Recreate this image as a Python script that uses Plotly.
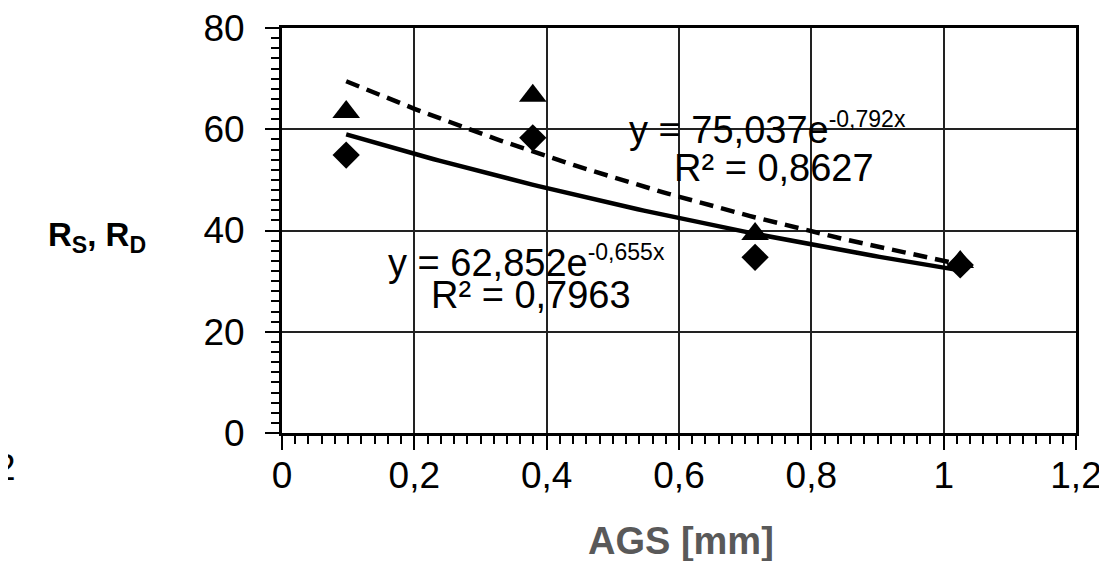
import numpy as np
import plotly.graph_objects as go

# Data
ags = [0.097, 0.379, 0.715, 1.025]
rs_triangle = [63.4, 66.6, 39.3, 33.8]
rd_diamond = [54.9, 58.3, 34.7, 33.2]

# Trendline coefficients as printed on chart (y = a * e^(b x))
fit_tri = (75.037, -0.792)
fit_dia = (62.852, -0.655)

x_ticks = [0, 0.2, 0.4, 0.6, 0.8, 1.0, 1.2]
x_ticklabels = ["0", "0,2", "0,4", "0,6", "0,8", "1", "1,2"]
y_ticks = [0, 20, 40, 60, 80]

FONT = "Liberation Sans, Arial, sans-serif"

xs = np.linspace(min(ags), max(ags), 100)

fig = go.Figure()
fig.add_trace(go.Scatter(x=xs, y=fit_tri[0] * np.exp(fit_tri[1] * xs), mode="lines",
                         line=dict(color="black", width=4.5, dash="14px,8px"), showlegend=False))
fig.add_trace(go.Scatter(x=xs, y=fit_dia[0] * np.exp(fit_dia[1] * xs), mode="lines",
                         line=dict(color="black", width=4.5), showlegend=False))
fig.add_trace(go.Scatter(x=ags, y=rs_triangle, mode="markers",
                         marker=dict(symbol="triangle-up", size=24, color="black"), showlegend=False))
fig.add_trace(go.Scatter(x=ags, y=rd_diamond, mode="markers",
                         marker=dict(symbol="diamond", size=21, color="black"), showlegend=False))

axis_common = dict(showline=True, linecolor="black", linewidth=3, mirror=True,
                   showgrid=True, gridcolor="#222", gridwidth=2, zeroline=False,
                   ticks="outside", ticklen=14, tickwidth=2, tickcolor="black",
                   ticklabeloverflow="allow", automargin=False,
                   tickfont=dict(family=FONT, size=37, color="black"))

fig.update_xaxes(range=[0, 1.2], tickvals=x_ticks, ticktext=x_ticklabels, ticklabelstandoff=-6,
                 minor=dict(dtick=0.02, ticks="outside", ticklen=8, tickwidth=2, tickcolor="black", showgrid=False),
                 **axis_common)
fig.update_yaxes(range=[0, 80], tickvals=y_ticks, ticklabelstandoff=13,
                 minor=dict(dtick=2, ticks="outside", ticklen=8, tickwidth=2, tickcolor="black", showgrid=False),
                 **axis_common)

ann_font = dict(family=FONT, size=38, color="black")
sup = '<sup><span style="font-size:23px">{}</span></sup>'
fig.add_annotation(x=0.733, y=60.2, xref="x", yref="y", showarrow=False,
                   text="y = 75,037e" + sup.format("-0,792x"), font=ann_font)
fig.add_annotation(x=0.743, y=52.3, xref="x", yref="y", showarrow=False,
                   text="R² = 0,8627", font=ann_font)
fig.add_annotation(x=0.369, y=33.8, xref="x", yref="y", showarrow=False,
                   text="y = 62,852e" + sup.format("-0,655x"), font=ann_font)
fig.add_annotation(x=0.377, y=27.2, xref="x", yref="y", showarrow=False,
                   text="R² = 0,7963", font=ann_font)

# Y axis title (horizontal)
fig.add_annotation(x=-0.233, y=0.484, xref="paper", yref="paper", xanchor="center", yanchor="middle",
                   showarrow=False, text="<b>R<sub>S</sub>, R<sub>D</sub></b>",
                   font=dict(family=FONT, size=33, color="black"))
# X axis title
fig.add_annotation(x=0.5025, y=-0.267, xref="paper", yref="paper", xanchor="center", yanchor="middle",
                   showarrow=False, text="<b>AGS [mm]</b>",
                   font=dict(family=FONT, size=38, color="#595959"))
# Stray fragment at left edge
fig.add_annotation(x=-0.3325, y=-0.0864, xref="paper", yref="paper",
                   xanchor="right", yanchor="middle", showarrow=False, text="2",
                   font=dict(family=FONT, size=37, color="black"))

fig.update_layout(width=1107, height=561, paper_bgcolor="white", plot_bgcolor="white",
                  margin=dict(l=274, r=39, t=20, b=136, autoexpand=False))

fig.write_html("out.html")
